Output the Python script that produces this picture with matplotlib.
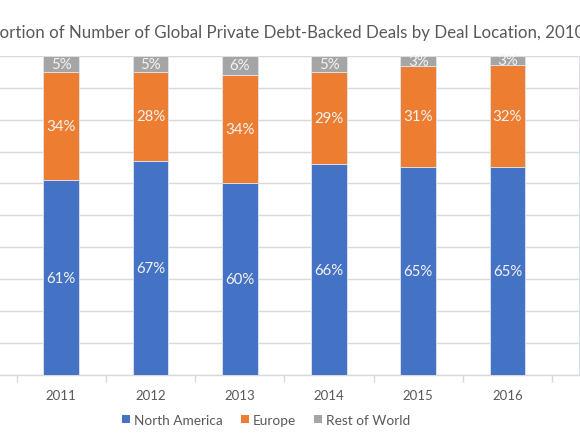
import matplotlib.pyplot as plt
import numpy as np
from matplotlib.patches import Patch

plt.rcParams['font.family'] = ['Lato', 'DejaVu Sans']

# Data (percent of deals)
years = ['2011', '2012', '2013', '2014', '2015', '2016', '2017']
north_america = [61, 67, 60, 66, 65.3, 65.2, 71.5]
europe = [34, 28, 34, 29, 31.4, 32.0, 25.5]
rest_of_world = [5, 5, 6, 5, 3.3, 2.8, 3.0]

title = 'Proportion of Number of Global Private Debt-Backed Deals by Deal Location, 2010-2017'
series_names = ['North America', 'Europe', 'Rest of World']
colors = ['#4472C4', '#ED7D31', '#A5A5A5']
grid_col = '#D9D9D9'
text_col = '#595959'

fig = plt.figure(figsize=(5.8, 4.35), dpi=100)
# the reference is a crop of a wider chart, so the axes run past the figure edges
ax = fig.add_axes([-0.1252, 0.1356, 1.2310, 0.734])

x = np.arange(len(years))
bottom = np.zeros(len(years))
for vals, name, col in zip([north_america, europe, rest_of_world], series_names, colors):
    vals = np.array(vals)
    ax.bar(x, vals, width=0.4, bottom=bottom, color=col,
           edgecolor='#dfe6f2', linewidth=0.6, label=name, zorder=3)
    for xi, b, v in zip(x, bottom, vals):
        ax.text(xi, b + v / 2, f'{v:.0f}%', ha='center', va='center',
                color='#f4f4f4', fontsize=10.8, zorder=4)
    bottom += vals

ax.set_xlim(-1.5, 6.5)
ax.set_ylim(0, 100)
ax.set_yticks(np.arange(0, 101, 10))
ax.set_yticklabels([])
ax.tick_params(axis='y', length=0)
ax.yaxis.grid(True, color=grid_col, linewidth=1.0, zorder=0)

ax.set_xticks(np.arange(-1.5, 7, 1))
ax.set_xticklabels([])
ax.set_xticks(x, minor=True)
ax.set_xticklabels(years, minor=True)
ax.tick_params(axis='x', which='major', length=5, color=grid_col, width=1)
ax.tick_params(axis='x', which='minor', length=0, pad=10, labelsize=9.5, labelcolor=text_col)

for s in ['top', 'left', 'right']:
    ax.spines[s].set_visible(False)
ax.spines['bottom'].set_color(grid_col)
ax.spines['bottom'].set_linewidth(1.0)

fig.text(-0.062, 1 - 33 / 435, title, ha='left', va='center', fontsize=12.2, color=text_col)

handles = [Patch(facecolor=c, label=n) for c, n in zip(colors, series_names)]
fig.legend(handles=handles, loc='center', bbox_to_anchor=(266 / 580, 1 - 420.7 / 435),
           ncol=3, frameon=False, fontsize=9.8, handlelength=0.6, handleheight=0.6,
           handletextpad=0.3, columnspacing=1.3, labelcolor=text_col)

fig.savefig('out.png', dpi=100)
